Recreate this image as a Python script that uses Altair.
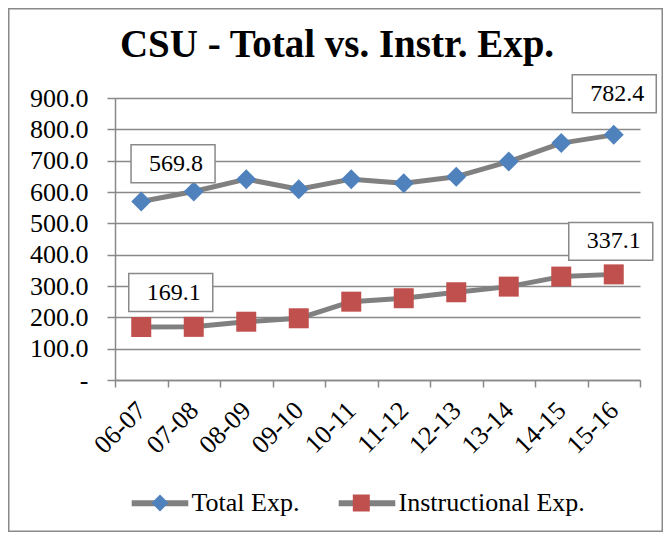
import altair as alt
import pandas as pd

# ---------------- data ----------------
years = ["06-07", "07-08", "08-09", "09-10", "10-11", "11-12", "12-13", "13-14", "14-15", "15-16"]
total_exp = [569.8, 601.5, 641.0, 609.0, 641.0, 628.0, 649.0, 697.0, 756.0, 782.4]
instr_exp = [169.1, 169.6, 186.0, 197.0, 250.0, 261.0, 280.0, 298.0, 330.0, 337.1]
series_names = ["Total Exp.", "Instructional Exp."]
title_text = "CSU - Total vs. Instr. Exp."
y_ticks = [0, 100, 200, 300, 400, 500, 600, 700, 800, 900]

df = pd.DataFrame({
    "year": years * 2,
    "value": total_exp + instr_exp,
    "series": [series_names[0]] * len(years) + [series_names[1]] * len(years),
})
one_row = pd.DataFrame({"t": [title_text]})

# ---------------- style ----------------
FONT = "Liberation Serif"
GRID = "#898989"
LINE = "#808080"
BLUE = "#4F81BD"
RED = "#C0504D"
DIAMOND = "M-1,0L0,-1L1,0L0,1Z"
SQUARE = "M-1,-1H1V1H-1Z"
BOX = "M-1,-0.452H1V0.452H-1Z"

W, H = 525, 282
PAD = {"left": 107, "top": 90, "right": 23, "bottom": 152}

x_enc = alt.X(
    "year:N", sort=years,
    scale=alt.Scale(type="band", domain=years, paddingInner=0, paddingOuter=0),
    axis=alt.Axis(
        title=None, tickBand="extent", labelAngle=-45, labelAlign="right",
        labelBaseline="middle", labelFont=FONT, labelFontSize=26, labelColor="black",
        labelPadding=19, labelOverlap=False, tickSize=7, tickColor=GRID, tickWidth=1.5,
        domainColor=GRID, domainWidth=1.5, grid=False,
    ),
)
y_enc = alt.Y(
    "value:Q",
    scale=alt.Scale(domain=[0, 900], nice=False, zero=True),
    axis=alt.Axis(
        title=None, values=y_ticks,
        labelExpr="datum.value == 0 ? '-\u00a0\u00a0' : format(datum.value, '.1f')",
        labelFont=FONT, labelFontSize=26, labelColor="black", labelPadding=19,
        tickSize=8, tickColor=GRID, tickWidth=1.5, domainColor=GRID, domainWidth=1.5,
        grid=True, gridColor=GRID, gridWidth=1.5,
    ),
)

base = alt.Chart(df)

# line layer: its colour legend draws the grey line part of the legend keys
lines = base.mark_line(strokeWidth=5, strokeJoin="round").encode(
    x=x_enc, y=y_enc,
    color=alt.Color(
        "series:N", sort=series_names,
        scale=alt.Scale(range=[LINE, LINE]),
        legend=alt.Legend(
            title=None, orient="none", direction="horizontal", legendX=13.5, legendY=373.5,
            padding=0, symbolType="stroke", symbolSize=3204, symbolStrokeWidth=6,
            symbolOpacity=1, labelFont=FONT, labelFontSize=26, labelColor="black",
            labelOffset=0, columnPadding=27, labelLimit=400,
        ),
    ),
)

# marker layer: its fill/shape legend draws only the markers, on top of the grey lines
pt_legend = alt.Legend(
    title=None, orient="none", direction="horizontal", legendX=32, legendY=392,
    padding=0, symbolSize=289, symbolStrokeWidth=0, symbolOpacity=1,
    labelFont=FONT, labelFontSize=26, labelExpr="''",
    labelOffset=0, columnPadding=175.3,
)
points = base.transform_calculate(series_pt="datum.series").mark_point(
    filled=True, size=400, opacity=1, strokeWidth=0
).encode(
    x=x_enc, y=y_enc,
    fill=alt.Fill(
        "series_pt:N",
        scale=alt.Scale(domain=series_names, range=[BLUE, RED]),
        legend=pt_legend,
    ),
    shape=alt.Shape(
        "series_pt:N",
        scale=alt.Scale(domain=series_names, range=[DIAMOND, SQUARE]),
        legend=pt_legend,
    ),
)

# data labels: (year, series, box offset x, box offset y)
label_specs = [
    ("06-07", "Total Exp.", 31.8, -37.7),
    ("15-16", "Total Exp.", 0.5, -41.0),
    ("06-07", "Instructional Exp.", 29.5, -34.5),
    ("15-16", "Instructional Exp.", -3.0, -33.0),
]
label_layers = []
for yr, sr, dx, dy in label_specs:
    sel = base.transform_filter(
        (alt.datum.year == yr) & (alt.datum.series == sr)
    )
    box = sel.mark_point(
        shape=BOX, size=7056, filled=True, fill="white", stroke=GRID,
        strokeWidth=1.5, opacity=1, xOffset=dx, yOffset=dy,
    ).encode(x=x_enc, y=y_enc)
    txt = sel.mark_text(
        font=FONT, fontSize=24, color="black", align="center", baseline="middle",
        dx=dx + 3, dy=dy,
    ).encode(x=x_enc, y=y_enc, text=alt.Text("value:Q", format=".1f"))
    label_layers += [box, txt]

title = alt.Chart(one_row).mark_text(
    font=FONT, fontSize=39, fontWeight="bold", color="black",
    align="center", baseline="alphabetic",
).encode(x=alt.value(222), y=alt.value(-41), text="t:N")

border = alt.Chart(one_row).mark_rect(
    fill="transparent", stroke=GRID, strokeWidth=1.5
).encode(
    x=alt.value(-106.25), x2=alt.value(547.25),
    y=alt.value(-89.25), y2=alt.value(433.25),
)

chart = alt.layer(border, lines, points, *label_layers, title).properties(
    width=W, height=H, padding=PAD,
    autosize=alt.AutoSizeParams(type="none"),
    background="white",
).configure_view(stroke=None)

chart.save("out.html", embed_options={"renderer": "svg", "actions": False})
